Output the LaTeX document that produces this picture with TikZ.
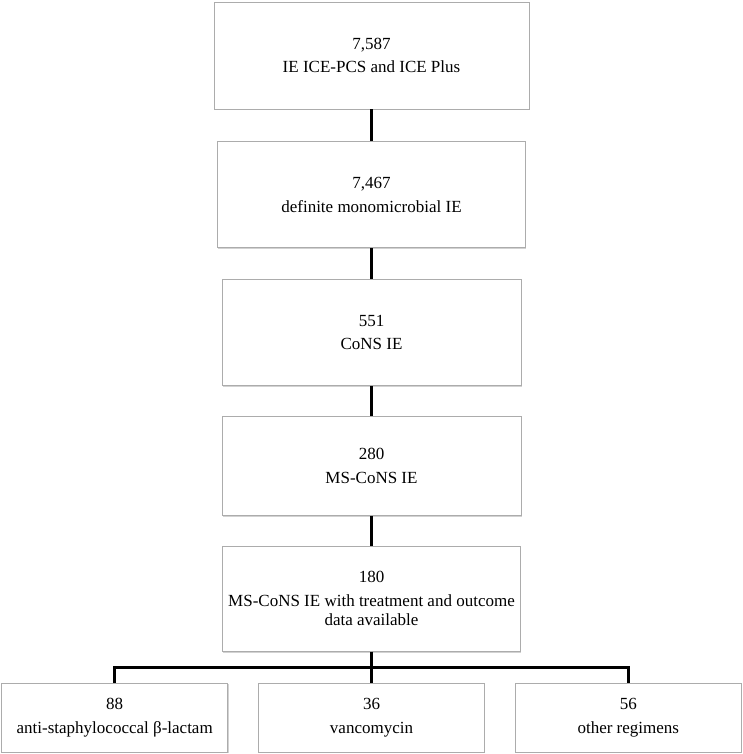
\documentclass[tikz,border=0pt]{standalone}
\usepackage{fontspec}
\setmainfont{Liberation Serif}
\usetikzlibrary{positioning,shadows}
\tikzset{
  box/.style={draw=gray!65, line width=0.8pt, fill=white, align=center, inner sep=0pt,
    font=\fontsize{17}{19.5}\selectfont,
    drop shadow={shadow xshift=0.9pt, shadow yshift=-1.3pt, fill=black!35}},
  link/.style={line width=3pt},
}

\begin{document}
\begin{tikzpicture}
  \useasboundingbox (0,0) rectangle (742pt,-754pt);
  \node[box, minimum width=315pt, minimum height=107pt] (all) at (371.5pt,-55.5pt)
    {7,587\\[4pt] IE ICE-PCS and ICE Plus};
  \node[box, minimum width=308pt, minimum height=106pt, below=32pt of all] (mono)
    {7,467\\[4pt] definite monomicrobial IE};
  \node[box, minimum width=299pt, minimum height=106pt, below=31pt of mono] (cons)
    {551\\[4pt] CoNS IE};
  \node[box, minimum width=299pt, minimum height=99pt, below=30pt of cons] (ms)
    {280\\[4pt] MS-CoNS IE};
  \node[box, minimum width=298pt, minimum height=105pt, below=30pt of ms] (avail)
    {180\\[4pt] MS-CoNS IE with treatment and outcome\\ data available};
  % treatment groups
  \node[box, minimum width=226pt, minimum height=69pt, below=31pt of avail] (vanco)
    {36\\[4pt] vancomycin};
  \node[box, minimum width=226pt, minimum height=69pt, left=30pt of vanco] (beta)
    {88\\[4pt] anti-staphylococcal β-lactam};
  \node[box, minimum width=226pt, minimum height=69pt, right=30pt of vanco] (other)
    {56\\[4pt] other regimens};
  \foreach \a/\b in {all/mono, mono/cons, cons/ms, ms/avail}
    \draw[link] (\a.south) -- (\b.north);
  \draw[link] (avail.south) -- ++(0,-15.5pt) coordinate (split);
  \draw[link] (beta.north) |- (split) -| (other.north);
  \draw[link] (split) -- (vanco.north);
\end{tikzpicture}
\end{document}
